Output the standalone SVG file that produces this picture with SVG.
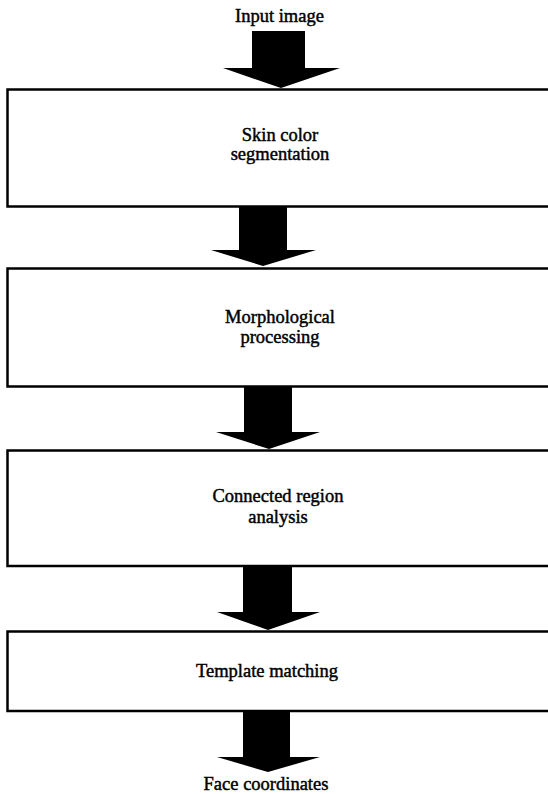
<svg xmlns="http://www.w3.org/2000/svg" width="548" height="794" viewBox="0 0 548 794">
<style>
.box{fill:#fff;stroke:#000;stroke-width:2.5}
.arr{fill:#000}
text{font-family:"Liberation Serif","Times New Roman",serif;font-size:18.5px;fill:#000;stroke:#000;stroke-width:0.45;text-anchor:middle}
</style>
<rect width="548" height="794" fill="#fff"/>
<g id="connectors">
<polygon class="arr" points="252,31 305,31 305,68 340,68 281,88 223,68 252,68"/>
<polygon class="arr" points="239,206 287,206 287,250 316,250 263,266 211,250 239,250"/>
<polygon class="arr" points="244,387 292,387 292,432 320,432 269,449 216,432 244,432"/>
<polygon class="arr" points="243,566 292,566 292,612 320,612 268,630 217,612 243,612"/>
<polygon class="arr" points="243,711 290,711 290,757 320,757 268,772 217,757 243,757"/>
</g>
<g id="input"><text x="279.5" y="22">Input image</text></g>
<g id="skin">
<rect class="box" x="7.5" y="89.5" width="560" height="117"/>
<text x="280" y="141">Skin color</text>
<text x="280" y="160">segmentation</text>
</g>
<g id="morph">
<rect class="box" x="7.5" y="268.5" width="560" height="118"/>
<text x="280" y="323">Morphological</text>
<text x="280" y="343">processing</text>
</g>
<g id="connected">
<rect class="box" x="7.5" y="450.5" width="560" height="115.5"/>
<text x="278" y="502">Connected region</text>
<text x="278" y="523">analysis</text>
</g>
<g id="template">
<rect class="box" x="7.5" y="631.5" width="560" height="79.5"/>
<text x="267" y="677">Template matching</text>
</g>
<g id="output"><text x="266" y="790">Face coordinates</text></g>
</svg>
